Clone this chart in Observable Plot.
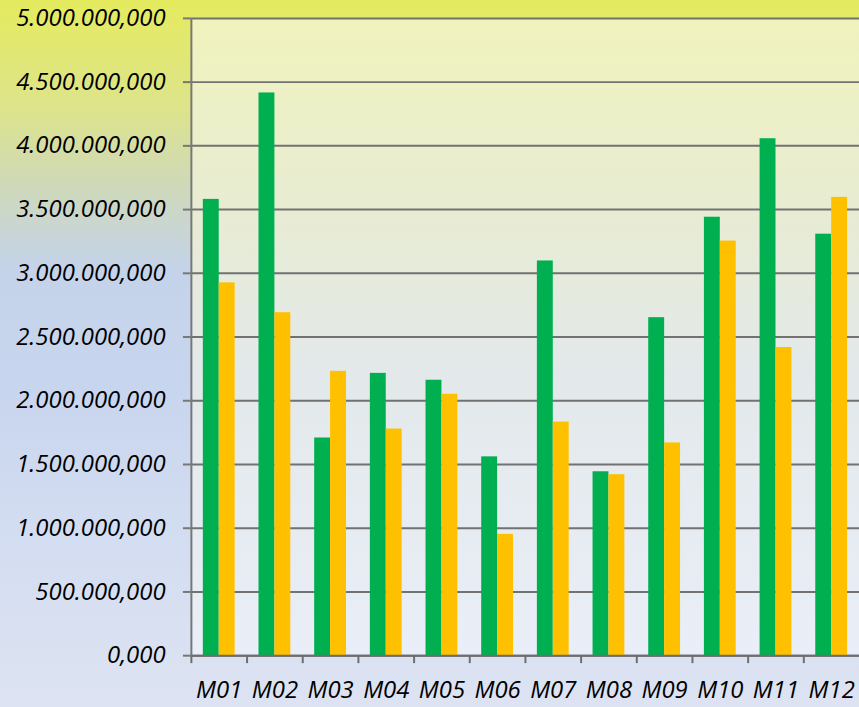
<!DOCTYPE html>
<html>
<head>
<meta charset="utf-8">
<script src="https://cdn.jsdelivr.net/npm/d3@7"></script>
<script src="https://cdn.jsdelivr.net/npm/@observablehq/plot@0.6"></script>
<style>
  html, body { margin: 0; padding: 0; }
  body {
    width: 859px; height: 707px; overflow: hidden;
    background: linear-gradient(to bottom, #e5eb5e 0%, #dde48a 15%, #cfd9b8 26%, #c4d3ea 38%, #c8d5ee 55%, #d3ddf1 75%, #dde3f2 100%);
  }
  #chart { position: absolute; left: 0; top: 0; }
</style>
</head>
<body>
<div id="chart"></div>
<script>
const months = ["M01","M02","M03","M04","M05","M06","M07","M08","M09","M10","M11","M12"];
const greenValues  = [3580000, 4415000, 1708000, 2215000, 2161000, 1560000, 3097000, 1443000, 2652000, 3440000, 4056000, 3307000];
const yellowValues = [2925000, 2691000, 2231000, 1778000, 2051000,  952000, 1833000, 1420000, 1669000, 3253000, 2418000, 3596000];
const yTicks = [0, 500000, 1000000, 1500000, 2000000, 2500000, 3000000, 3500000, 4000000, 4500000, 5000000];

const data = months.map((m, i) => ({month: m, green: greenValues[i], yellow: yellowValues[i]}));

const fmt = d3.formatLocale({decimal: ",", thousands: ".", grouping: [3], currency: ["", ""]}).format(",.3f");

const W = 864, ML = 192, MR = 0;
const step = (W - ML - MR) / months.length;

const plot = Plot.plot({
  width: W,
  height: 707,
  marginLeft: ML,
  marginRight: MR,
  marginTop: 18,
  marginBottom: 48,
  style: {background: "transparent", fontFamily: "'Open Sans', sans-serif", fontStyle: "italic", fontSize: "24px", color: "#000", overflow: "visible"},
  x: {type: "band", domain: months, padding: 0, label: null},
  y: {domain: [0, 5000000], label: null},
  marks: [
    Plot.frame({fill: "url(#plotbg)", stroke: "none"}),
    Plot.gridY(yTicks, {stroke: "#727272", strokeOpacity: 1, strokeWidth: 2}),
    Plot.barY(data, {x: "month", y: "green", fill: "#00b050", insetLeft: step * 12 / 56, insetRight: step * 28 / 56}),
    Plot.barY(data, {x: "month", y: "yellow", fill: "#ffc000", insetLeft: step * 28 / 56, insetRight: step * 12 / 56}),
    Plot.ruleY([0], {stroke: "#6e6e6e", strokeWidth: 2}),
    Plot.ruleX(months, {x: d => d, dx: -step / 2, y1: 0, y2: 0, insetBottom: -8, stroke: "#6e6e6e", strokeWidth: 2}),
    Plot.ruleX([months[0]], {x: d => d, dx: -step / 2, y1: 0, y2: 5000000, stroke: "#777777", strokeWidth: 2}),
    Plot.axisY(yTicks, {tickSize: 8, tickPadding: 18, tickFormat: fmt, stroke: "#777777", strokeWidth: 2, fill: "#000", fontSize: 24, label: null}),
    Plot.axisX(months, {tickSize: 0, tickPadding: 26, fill: "#000", fontSize: 24, label: null})
  ]
});

const defs = d3.select(plot).insert("defs", ":first-child");
const g = defs.append("linearGradient").attr("id", "plotbg").attr("x1", 0).attr("y1", 0).attr("x2", 0).attr("y2", 1);
g.append("stop").attr("offset", "0%").attr("stop-color", "#f0f3bc");
g.append("stop").attr("offset", "30%").attr("stop-color", "#e8ecd3");
g.append("stop").attr("offset", "55%").attr("stop-color", "#e3e9ea");
g.append("stop").attr("offset", "100%").attr("stop-color", "#e9eef8");

document.getElementById("chart").appendChild(plot);
</script>
</body>
</html>
